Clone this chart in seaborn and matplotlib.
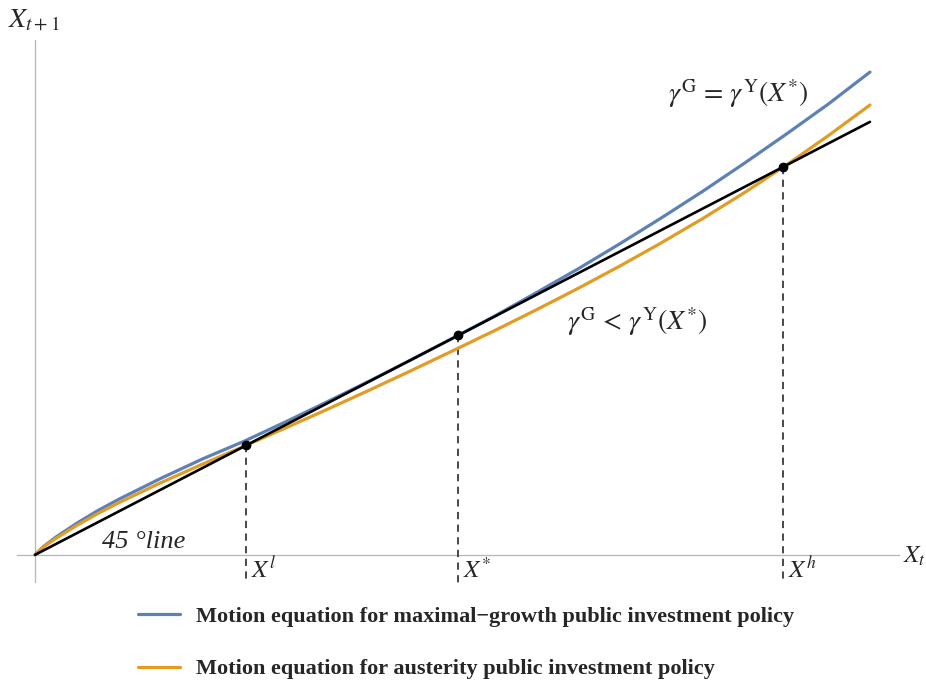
import matplotlib
matplotlib.use("Agg")
import matplotlib.pyplot as plt
import seaborn as sns
import pandas as pd
from matplotlib.lines import Line2D

# values (x scaled so the right end of the curves is 1)
x_vals = [0, 0.01, 0.025, 0.05, 0.075, 0.1, 0.15, 0.2, 0.25, 0.3, 0.35, 0.4,
          0.45, 0.5, 0.55, 0.6, 0.65, 0.7, 0.75, 0.8, 0.85, 0.9, 0.95, 1.0]
max_growth = [0, 0.019, 0.041, 0.073, 0.102, 0.128, 0.176, 0.221, 0.262, 0.307,
              0.3535, 0.401, 0.450, 0.500, 0.551, 0.605, 0.660, 0.718, 0.778,
              0.840, 0.905, 0.972, 1.041, 1.115]
austerity = [0, 0.018, 0.038, 0.068, 0.095, 0.120, 0.166, 0.209, 0.2505, 0.293,
             0.336, 0.380, 0.425, 0.471, 0.5175, 0.5655, 0.615, 0.6665, 0.7205,
             0.777, 0.837, 0.9005, 0.968, 1.039]
line45 = [0, 1.0]

steady_states = [0.253, 0.507, 0.896]
steady_labels = [r"$X^{l}$", r"$X^{*}$", r"$X^{h}$"]

legend_labels = ["Motion equation for maximal\u2212growth public investment policy",
                 "Motion equation for austerity public investment policy"]

blue = "#5E81B5"
orange = "#E19C24"

sns.set_style("white")
plt.rcParams["font.family"] = ["Liberation Serif", "DejaVu Serif"]
plt.rcParams["mathtext.fontset"] = "stix"

df = pd.DataFrame({"x": x_vals, "max_growth": max_growth, "austerity": austerity})

fig = plt.figure(figsize=(9.26, 6.82), dpi=100)
ax = fig.add_axes([0.01836, 0.1452, 0.9536, 0.7961])

sns.lineplot(data=df, x="x", y="max_growth", color=blue, lw=2.3, ax=ax)
sns.lineplot(data=df, x="x", y="austerity", color=orange, lw=2.3, ax=ax)
sns.lineplot(x=[0, 1.0], y=line45, color="black", lw=1.9, ax=ax)

ax.set_xlim(-0.0216, 1.036)
ax.set_ylim(-0.065, 1.189)
for s in ax.spines.values():
    s.set_visible(False)
ax.set_xticks([])
ax.set_yticks([])
ax.set_xlabel("")
ax.set_ylabel("")
ax.axhline(0, color="#b5b5b5", lw=0.9, zorder=0)
ax.axvline(0, color="#b5b5b5", lw=0.9, zorder=0)

for xs, lab in zip(steady_states, steady_labels):
    ax.plot([xs, xs], [xs, -0.065], color="#3a3a3a", lw=1.3, ls=(0, (4, 3)), zorder=1)
    ax.plot(xs, xs, "o", color="black", ms=6, zorder=5)
    ax.text(xs + 0.006, -0.035, lab, fontsize=18, va="center", ha="left")

fig.text(903 / 926, 1 - 556 / 682, r"$X_{t}$", fontsize=18, va="center", ha="left")
fig.text(8 / 926, 1 - 20 / 682, r"$X_{t+1}$", fontsize=20, va="center", ha="left")
ax.text(0.08, 0.03, "45 \u00b0line", fontsize=19, style="italic", va="center", ha="left")
ax.text(0.758, 1.066, r"$\gamma^{\mathrm{G}}\,=\,\gamma^{\mathrm{Y}}(X^{*})$",
        fontsize=20, va="center", ha="left")
ax.text(0.637, 0.539, r"$\gamma^{\mathrm{G}}\,<\,\gamma^{\mathrm{Y}}(X^{*})$",
        fontsize=20, va="center", ha="left")

handles = [Line2D([0], [0], color=blue, lw=2.3), Line2D([0], [0], color=orange, lw=2.3)]
fig.legend(handles, legend_labels, loc="upper left",
           bbox_to_anchor=(118 / 926, 1 - 586 / 682), frameon=False,
           prop={"family": "Liberation Serif", "weight": "bold", "size": 16},
           labelspacing=1.45, handlelength=1.9, handletextpad=0.7)

fig.savefig("out.png", dpi=100)
